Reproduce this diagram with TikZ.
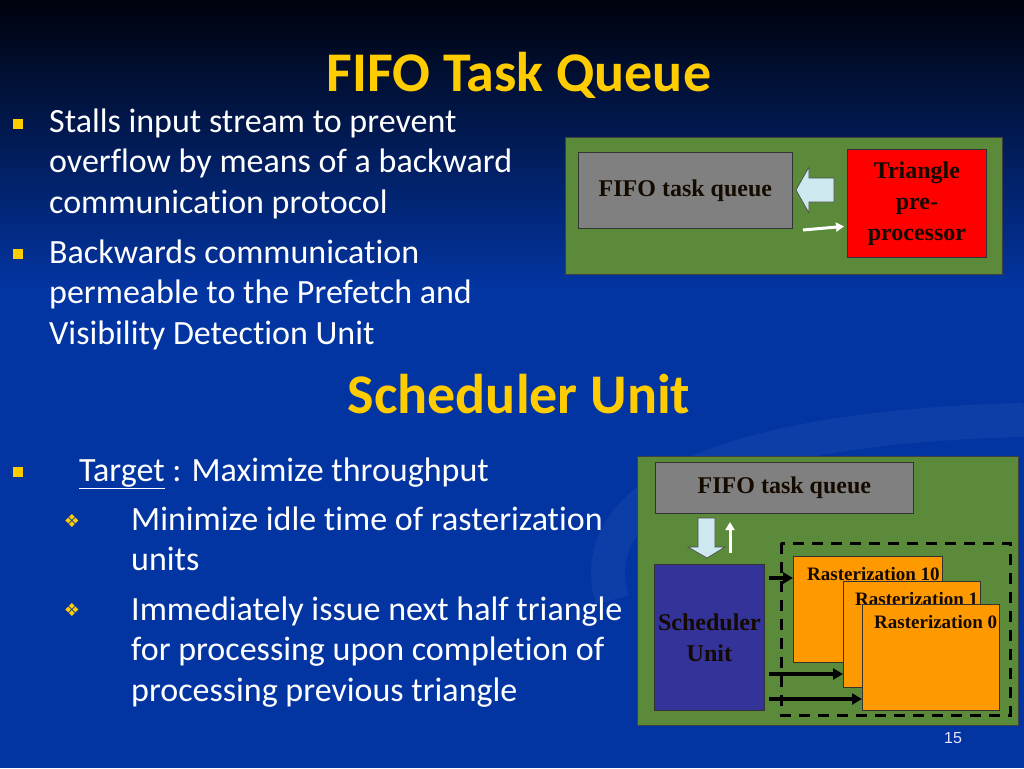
\documentclass[tikz,border=0pt]{standalone}
\usepackage{fontspec}
\setmainfont{Carlito}[Ligatures={NoCommon}]
\newfontfamily\diafont{Liberation Serif}
\newfontfamily\symfont{DejaVu Sans}
\newfontfamily\numfont{Liberation Sans}
\usetikzlibrary{arrows.meta,calc}
\definecolor{bgtop}{HTML}{00020C}
\definecolor{bgblue}{HTML}{0335A2}
\definecolor{panelgreen}{HTML}{5C8A3B}
\definecolor{qgray}{HTML}{808080}
\definecolor{tred}{HTML}{FF0000}
\definecolor{rorange}{HTML}{FF9900}
\definecolor{schedblue}{HTML}{333399}
\definecolor{lblue}{HTML}{CDE8EF}
\definecolor{tyellow}{HTML}{FFCC00}
\definecolor{darktext}{HTML}{140A00}
\tikzset{
  panel/.style={draw=black!75, line width=0.9pt, fill=panelgreen, anchor=north west, inner sep=0pt},
  blockbox/.style={draw=black!80, line width=0.8pt, anchor=north west, inner sep=0pt, align=center,
     text=darktext, font=\diafont\bfseries\fontsize{24}{31}\selectfont},
  rastxt/.style={text=darktext, font=\diafont\bfseries\fontsize{19}{22}\selectfont, anchor=base west, inner sep=0pt},
  bodytxt/.style={text=white, font=\fontsize{34}{41}\selectfont, anchor=base west, inner sep=0pt},
  titletxt/.style={text=tyellow, font=\bfseries\fontsize{56}{60}\selectfont, anchor=base, inner sep=0pt},
  sqbullet/.style={fill=tyellow, minimum size=10pt, inner sep=0pt},
  dbullet/.style={text=tyellow, font=\symfont\fontsize{18}{18}\selectfont, inner sep=0pt},
  blockarrow/.style={fill=lblue, draw=black!70, line width=0.7pt},
  blkarrow/.style={draw=black, line width=3.2pt, -{Triangle[length=10pt,width=11pt]}},
  whtarrow/.style={draw=white, line width=3pt, -{Triangle[length=8pt,width=9pt]}},
}
\begin{document}
\begin{tikzpicture}[x=1pt,y=-1pt]
\useasboundingbox (0,0) rectangle (1024,768);
% background
\fill[bgblue] (0,0) rectangle (1024,768);
\shade[top color=bgtop, bottom color=bgblue] (0,0) rectangle (1024,290);
\draw[white, opacity=0.045, line width=34pt] (612,600) .. controls (575,470) and (800,425) .. (1024,420);

% titles
\node[titletxt] (t1) at (519,91) {FIFO Task Queue};
\node[titletxt] (t2) at (519,413) {Scheduler Unit};

% upper bullets
\node[sqbullet] (q1) at (18,124) {};
\node[bodytxt] (l1) at (49,132) {Stalls input stream to prevent};
\node[bodytxt] (l2) at (49,172) {overflow by means of a backward};
\node[bodytxt] (l3) at (49,213) {communication protocol};
\node[sqbullet] (q2) at (18,254) {};
\node[bodytxt] (l4) at (49,263) {Backwards communication};
\node[bodytxt] (l5) at (49,303) {permeable to the Prefetch and};
\node[bodytxt] (l6) at (49,344) {Visibility Detection Unit};

% lower bullets
\node[sqbullet] (q3) at (18,472) {};
\node[bodytxt] (l7) at (79,481) {\underline{Target} : Maximize throughput};
\node[dbullet] (d1) at (72,521) {❖};
\node[bodytxt] (l8) at (131,530) {Minimize idle time of rasterization};
\node[bodytxt] (l9) at (131,570) {units};
\node[dbullet] (d2) at (72,610) {❖};
\node[bodytxt] (l10) at (131,620) {Immediately issue next half triangle};
\node[bodytxt] (l11) at (131,660) {for processing upon completion of};
\node[bodytxt] (l12) at (131,701) {processing previous triangle};

% upper diagram
\node[panel, minimum width=437pt, minimum height=137pt] (g1) at (565,137) {};
\node[blockbox, fill=qgray, minimum width=214pt, minimum height=76pt] (fifo1) at (578,152) {FIFO task queue};
\node[blockbox, fill=tred, minimum width=139pt, minimum height=108pt] (tri) at (847,149) {Triangle\\pre-\\processor};
\draw[blockarrow] (796,190) -- (809,167) -- (809,178) -- (834,178) -- (834,202) -- (809,202) -- (809,213) -- cycle;
\coordinate (w1) at (803,230);
\draw[whtarrow] (w1) -- ($(tri.west)+(-3,23)$);

% lower diagram
\node[panel, minimum width=381pt, minimum height=269pt] (g2) at (637,456) {};
\node[blockbox, fill=qgray, minimum width=258pt, minimum height=51pt] (fifo2) at (655,462) {FIFO task queue};
\node[blockbox, fill=schedblue, minimum width=110pt, minimum height=146pt] (sched) at (654,564) {Scheduler\\Unit};
\draw[blockarrow] (707,558) -- (688,547) -- (698,547) -- (698,518) -- (715,518) -- (715,547) -- (725,547) -- cycle;
\coordinate (w2) at (730,553);
\draw[whtarrow] (w2) -- (730,522);
\draw[black, line width=3pt, dash pattern=on 11pt off 8pt] (781,543) rectangle (1010,715);

\node[blockbox, fill=rorange, minimum width=149pt, minimum height=106pt] (r10) at (793,556) {};
\node[rastxt] (r10t) at (807,580) {Rasterization 10};
\node[blockbox, fill=rorange, minimum width=137pt, minimum height=106pt] (r1) at (843,581) {};
\begin{scope}
\clip (843,581) rectangle (980,687);
\node[rastxt] (r1t) at (855,605) {Rasterization 1};
\end{scope}
\node[blockbox, fill=rorange, minimum width=137pt, minimum height=106pt] (r0) at (862,604) {};
\node[rastxt] (r0t) at (874,628) {Rasterization 0};

\coordinate (s1) at (769,578);
\coordinate (s2) at (769,674);
\coordinate (s3) at (769,699);
\draw[blkarrow] (s1) -- (s1 -| r10.west);
\draw[blkarrow] (s2) -- (s2 -| r1.west);
\draw[blkarrow] (s3) -- (s3 -| r0.west);

% page number
\node[text=blue!10!white, font=\numfont\fontsize{16}{16}\selectfont, inner sep=0pt] (pn) at (953,738) {15};
\end{tikzpicture}
\end{document}
